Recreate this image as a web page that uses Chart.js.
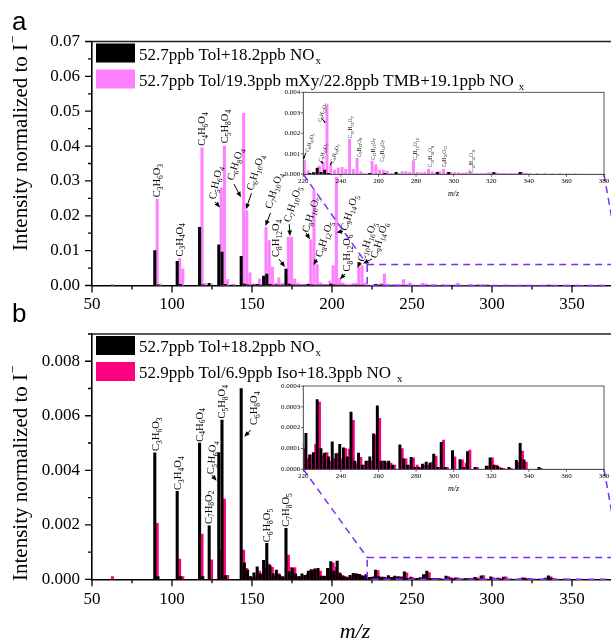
<!DOCTYPE html>
<html>
<head>
<meta charset="utf-8">
<script src="https://cdn.jsdelivr.net/npm/chart.js@4.4.1/dist/chart.umd.min.js"></script>
<style>
  body { margin: 0; width: 611px; height: 643px; overflow: hidden; position: relative; background: #fff; }
  canvas { position: absolute; }
</style>
</head>
<body>
<canvas id="mainA" width="611" height="320" style="left:0px;top:0px"></canvas>
<canvas id="mainB" width="611" height="343" style="left:0px;top:300px"></canvas>
<canvas id="insetA" width="341" height="120" style="left:270px;top:84px"></canvas>
<canvas id="insetB" width="341" height="120" style="left:270px;top:378px"></canvas>
<script>
// Panel a: m/z, Tol only (black), Tol/mXy/TMB mix (pink)
const mzA = [62, 90, 92, 104, 106, 118, 120, 124, 130, 132, 134, 138, 144, 146, 148, 150, 152, 154, 156, 158,
  160, 162, 164, 166, 168, 170, 172, 174, 176, 178, 180, 182, 184, 186, 188, 190, 192, 194, 196, 198,
  200, 202, 204, 206, 208, 210, 212, 214, 216, 218, 220, 222, 224, 226, 228, 230, 232, 234, 236, 238,
  240, 242, 244, 246, 248, 250, 252, 254, 256, 258, 260, 262, 264, 266, 268, 270, 272, 274, 276, 278,
  280, 282, 284, 286, 288, 290, 292, 294, 296, 298, 300, 302, 304, 306, 308, 310, 312, 314, 316, 318,
  320, 322, 324, 326, 328, 330, 332, 334, 336, 338, 340, 344, 348, 352, 356, 360, 364];
const tolA = [0, 0.0100, 0.0002, 0.0069, 0.0003, 0.0167, 0.0002, 0.0006, 0.0117, 0.0096, 0.0003, 0.0001, 0.0084, 0.0004, 0.0002, 0.0001, 0.0002, 0.0003, 0.0001, 0.0027,
  0.0033, 0.0003, 0.0001, 0.0002, 0.0001, 0.0001, 0.0047, 0.0004, 0.0002, 0.0001, 0.0001, 0.0001, 0.0001, 0.0003, 0.0002, 0.0001, 0.0001, 0.0001, 0.0001, 0.0001,
  0.0004, 0.0002, 0.0001, 0.0001, 0.0001, 0, 0, 0.0001, 0.0001, 0.0001, 0.0001, 0, 0.00005, 0.00008, 0.0003, 0.0001, 0.0002, 0.00005, 0, 0,
  0, 0, 0, 0, 0, 0, 0, 0, 0.00005, 0, 0, 0, 0.00005, 0, 0, 0.0001, 0, 0, 0, 0,
  0, 0, 0, 0, 0, 0, 0.0001, 0, 0, 0.0001, 0, 0, 0, 0, 0, 0, 0, 0, 0, 0,
  0, 0.00008, 0, 0, 0, 0, 0, 0, 0.0001, 0, 0, 0, 0, 0, 0, 0, 0];
const mixA = [0.0003, 0.0247, 0.0004, 0.0077, 0.0048, 0.0395, 0.0006, 0.0004, 0.0280, 0.0400, 0.0017, 0.0004, 0.0494, 0.0215, 0.0036, 0.0005, 0.0004, 0.0019, 0.0003, 0.0167,
  0.0129, 0.0053, 0.0006, 0.0022, 0.0006, 0.0008, 0.0139, 0.0139, 0.0019, 0.0006, 0.0003, 0.0004, 0.0005, 0.0131, 0.0272, 0.0060, 0.0008, 0.0004, 0.0003, 0.0013,
  0.0057, 0.0310, 0.0020, 0.0008, 0.0004, 0.0003, 0.0005, 0.0006, 0.0053, 0.0057, 0.0007, 0.00018, 0.00005, 0.0001, 0.0004, 0.00057, 0.00338, 0.0004, 0.0002, 0.0003,
  0.00034, 0.00024, 0.0017, 0.00024, 0.00078, 0.00013, 0.00004, 0.00004, 0.00065, 0.00046, 0.00021, 0.0002, 0.00016, 0.00004, 0.00003, 0.00003, 0.00013, 0.00013, 0.0001, 0.00067,
  0.0001, 0.00008, 0.0001, 0.00026, 0.00013, 0.0001, 0.00013, 0.00024, 0.00008, 0.00008, 0.00008, 0.00008, 0.00006, 0.00008, 0.00013, 0.00004, 0.00003, 0.00003, 0.00004, 0.00008,
  0.0001, 0.00008, 0.00005, 0.00005, 0.00004, 0.00005, 0.00004, 0.00006, 0.0001, 0.00005, 0.00003, 0.00003, 0.00003, 0.00002, 0.00002, 0.00002, 0.00002];

// Panel b: m/z, Tol only (black), Tol/Iso mix (pink)
const mzB = [62, 90, 92, 104, 106, 118, 120, 124, 130, 132, 134, 144, 146, 148, 150, 152, 154, 156, 158, 160,
  162, 164, 166, 168, 170, 172, 174, 176, 178, 180, 182, 184, 186, 188, 190, 192, 194, 196, 198, 200,
  202, 204, 206, 208, 210, 212, 214, 216, 218, 220, 222, 224, 226, 228, 230, 232, 234, 236, 238, 240,
  242, 244, 246, 248, 250, 252, 254, 256, 258, 260, 262, 264, 266, 268, 272, 274, 276, 278, 280, 282,
  284, 286, 288, 290, 292, 294, 296, 300, 304, 306, 308, 312, 318, 320, 322, 324, 326, 330, 334, 336,
  338, 346];
const tolB = [0, 0.00464, 0.0001, 0.00323, 0.0001, 0.0050, 0.0001, 0.00196, 0.00465, 0.00584, 0.00015, 0.0070, 0.0006, 0.00034, 0.0001, 0.00024, 0.00046, 0.0002, 0.0007, 0.00132,
  0.0005, 0.0002, 0.00034, 0.00016, 0.0001, 0.00187, 0.00028, 0.0004, 0.0002, 0.0001, 0.0002, 0.00015, 0.0003, 0.00035, 0.00038, 0.0004, 0.00012, 0.00012, 0.0004, 0.00065,
  0.0003, 0.00067, 0.0002, 0.0001, 0.00006, 0.00015, 0.00022, 0.0002, 0.00018, 0.00012, 0.000173, 0.00007, 0.00008, 0.000335, 0.0001, 0.000078, 0.00006, 0.000132, 0.000075, 0.00012,
  0.000103, 0.00006, 0.000275, 0.00004, 0.000078, 0.00002, 0.00004, 0.00006, 0.00017, 0.000305, 0.00004, 0.00004, 0.00004, 0.00002, 0.000118, 0.00005, 0.00002, 0.000058, 0.00001, 0.00001,
  0.000025, 0.000035, 0.00003, 0.000073, 0.00001, 0.00013, 0.00001, 0.00009, 0.000047, 0.00001, 0.000085, 0.00001, 0.000015, 0.000055, 0.00002, 0.000015, 0.000005, 0.00001, 0.000043, 0.000125,
  0.000045, 0.00001];
const isoB = [0.0001, 0.00205, 0, 0.00074, 0.0001, 0.00166, 0, 0.00071, 0.00107, 0.00294, 0.00015, 0.00107, 0.0004, 0.0001, 0.00005, 0.0001, 0.0003, 0.00015, 0.0004, 0.00056,
  0.00044, 0.0001, 0.00021, 0.00008, 0.00005, 0.00089, 0.00044, 0.00043, 0.0001, 0.0001, 0.00015, 0.0002, 0.00035, 0.0003, 0.00035, 0.0003, 0.0001, 0.0001, 0.00038, 0.0006,
  0.00045, 0.00025, 0.00015, 0.0001, 0.00005, 0.0001, 0.0002, 0.00018, 0.00015, 0.0001, 0.00005, 0.00007, 0.00012, 0.000323, 0.00007, 0.00008, 0.00004, 0.00005, 0.000078, 0.00005,
  0.0001, 0.000097, 0.000235, 0.00003, 0.000058, 0.00002, 0.00004, 0.00004, 0.000165, 0.000245, 0.00004, 0.00003, 0.00003, 0.00002, 0.0001, 0.00005, 0.00002, 0.000055, 0.00002, 0.00001,
  0.00002, 0.00002, 0.000035, 0.000063, 0.00001, 0.00014, 0.00001, 0.00006, 0.000045, 0.00003, 0.000092, 0.00001, 0.000015, 0.000055, 0.00002, 0.00001, 0.000005, 0.000005, 0.000033, 0.000088,
  0.000035, 0.000005];

const xTicksMain = [50, 100, 150, 200, 250, 300, 350];
const xTicksInset = [220, 240, 260, 280, 300, 320, 340, 360, 380];
const yTicksA = [0, 0.01, 0.02, 0.03, 0.04, 0.05, 0.06, 0.07];
const yTicksB = [0, 0.002, 0.004, 0.006, 0.008];
const yTicksInA = [0, 0.001, 0.002, 0.003, 0.004];
const yTicksInB = [0, 0.0001, 0.0002, 0.0003, 0.0004];

const seriesTol = '52.7ppb Tol+18.2ppb NO';
const seriesMixA = '52.7ppb Tol/19.3ppb mXy/22.8ppb TMB+19.1ppb NO';
const seriesMixB = '52.9ppb Tol/6.9ppb Iso+18.3ppb NO';

// peak labels: formula, anchor (m/z, intensity), text angle, optional arrow
const labelsA = [
  { f: 'C3H6O3', m: 90.4, v: 0.0253 },
  { f: 'C3H4O4', m: 104.6, v: 0.0083 },
  { f: 'C4H6O4', m: 118.6, v: 0.0401 },
  { f: 'C5H8O4', m: 132.9, v: 0.0408 },
  { f: 'C5H6O4', m: 125, v: 0.0248, a: -78, arr: [126.9, 0.0240, 130, 0.0224] },
  { f: 'C6H8O4', m: 136.25, v: 0.0303, a: -72, arr: [138.75, 0.0291, 143.1, 0.0253] },
  { f: 'C6H10O4', m: 148.4, v: 0.0274, a: -72, arr: [149.7, 0.0265, 146.25, 0.0219] },
  { f: 'C7H10O4', m: 160, v: 0.0222, a: -72, arr: [161.6, 0.0208, 158.4, 0.0171] },
  { f: 'C8H12O4', m: 165, v: 0.0082, arr: [166.9, 0.0076, 170.6, 0.0053] },
  { f: 'C7H10O5', m: 171.7, v: 0.0183, a: -72, arr: [173.3, 0.0176, 173.75, 0.0142] },
  { f: 'C8H10O5', m: 183.1, v: 0.0154, a: -72, arr: [183.75, 0.0151, 186.25, 0.0133] },
  { f: 'C8H12O5', m: 191.4, v: 0.0083, a: -72, arr: [190.6, 0.0076, 188.4, 0.0059] },
  { f: 'C9H14O5', m: 207.1, v: 0.0159, a: -72, arr: [206.9, 0.0156, 202.8, 0.0152] },
  { f: 'C8H12O6', m: 209.2, v: 0.0040, arr: [208.1, 0.0033, 205, 0.0018] },
  { f: 'C10H16O5', m: 217.9, v: 0.0070, a: -72, arr: [217.5, 0.0067, 215.9, 0.0051] },
  { f: 'C9H14O6', m: 225.8, v: 0.0080, a: -72, arr: [225, 0.0076, 219.4, 0.0063] }
];
const labelsB = [
  { f: 'C3H6O3', m: 90, v: 0.00471 },
  { f: 'C3H4O4', m: 103.6, v: 0.00328 },
  { f: 'C4H6O4', m: 117, v: 0.00505 },
  { f: 'C5H8O4', m: 131.25, v: 0.0059 },
  { f: 'C5H6O4', m: 123.75, v: 0.00386, a: -85, arr: [124.8, 0.00383, 127.9, 0.00362] },
  { f: 'C7H8O2', m: 122.7, v: 0.00203 },
  { f: 'C6H8O4', m: 151.25, v: 0.00566, arr: [149.2, 0.00548, 145.2, 0.00523] },
  { f: 'C6H8O5', m: 159.2, v: 0.00136 },
  { f: 'C7H8O5', m: 171, v: 0.00193 }
];
const labelsInA = [
  { f: 'C9H16O7', m: 221.8, v: 0.0011, a: -72, arr: [221.4, 0.00105, 220, 0.00073] },
  { f: 'C9H10O7', m: 228.9, v: 0.00061, a: -72, arr: [229.3, 0.00065, 230.7, 0.0005] },
  { f: 'C9H12O7', m: 228.5, v: 0.00257, a: -72, arr: [229.8, 0.00273, 232, 0.00249] },
  { f: 'C9H14O7', m: 235.1, v: 0.00057, a: -72, arr: [235.1, 0.00061, 234.2, 0.0004] },
  { f: 'C10H12O7', m: 245.1, v: 0.00176 },
  { f: 'C9H12O8', m: 249.5, v: 0.00083 },
  { f: 'C11H12O7', m: 257.2, v: 0.0007 },
  { f: 'C11H14O7', m: 261.8, v: 0.00061 },
  { f: 'C9H10O10', m: 279.6, v: 0.0007 },
  { f: 'C12H14O8', m: 287.6, v: 0.00034 },
  { f: 'C9H10O11', m: 295, v: 0.00034 },
  { f: 'C10H12O11', m: 309.4, v: 0.00008 }
];

const SERIF = '"Liberation Serif", "Times New Roman", serif';
const SANS = '"Liberation Sans", Arial, sans-serif';
const PINK_A = '#ff80ff';
const PINK_B = '#ff0080';
const ZOOM = '#7b2ff7';

function drawFormula(ctx, f, px, py, ang, size, sub) {
  ctx.save();
  ctx.translate(px, py);
  ctx.rotate(ang * Math.PI / 180);
  ctx.textAlign = 'left';
  ctx.textBaseline = 'alphabetic';
  ctx.fillStyle = '#000';
  let x = 0;
  const base = size * 0.33;
  f.match(/[A-Za-z]+|\d+/g).forEach(part => {
    const isSub = /\d/.test(part);
    ctx.font = (isSub ? sub : size) + 'px ' + SERIF;
    ctx.fillText(part, x, isSub ? base + size * 0.25 : base);
    x += ctx.measureText(part).width;
  });
  ctx.restore();
}

function drawArrow(ctx, x1, y1, x2, y2, head) {
  const ang = Math.atan2(y2 - y1, x2 - x1);
  ctx.save();
  ctx.strokeStyle = '#000';
  ctx.fillStyle = '#000';
  ctx.lineWidth = 1;
  ctx.beginPath();
  ctx.moveTo(x1, y1);
  ctx.lineTo(x2 - Math.cos(ang) * head * 0.8, y2 - Math.sin(ang) * head * 0.8);
  ctx.stroke();
  ctx.beginPath();
  ctx.moveTo(x2, y2);
  ctx.lineTo(x2 - head * Math.cos(ang - 0.4), y2 - head * Math.sin(ang - 0.4));
  ctx.lineTo(x2 - head * Math.cos(ang + 0.4), y2 - head * Math.sin(ang + 0.4));
  ctx.closePath();
  ctx.fill();
  ctx.restore();
}

function drawLabels(chart, list, size, sub, head) {
  const xs = chart.scales.x, ys = chart.scales.y, ctx = chart.ctx;
  list.forEach(l => {
    drawFormula(ctx, l.f, xs.getPixelForValue(l.m), ys.getPixelForValue(l.v), l.a || -90, size, sub);
    if (l.arr) {
      drawArrow(ctx, xs.getPixelForValue(l.arr[0]), ys.getPixelForValue(l.arr[1]),
        xs.getPixelForValue(l.arr[2]), ys.getPixelForValue(l.arr[3]), head);
    }
  });
}

function minorTicks(ticks, max) {
  const out = [];
  for (let i = 0; i < ticks.length - 1; i++) out.push((ticks[i] + ticks[i + 1]) / 2);
  const half = (ticks[1] - ticks[0]) / 2;
  if (ticks[ticks.length - 1] + half <= max + 1e-9) out.push(ticks[ticks.length - 1] + half);
  return out;
}

function drawTickMarks(chart, xMaj, yMaj, len, minLen, withMinor, color, width) {
  const xs = chart.scales.x, ys = chart.scales.y, ctx = chart.ctx, ca = chart.chartArea;
  ctx.save();
  ctx.strokeStyle = color;
  ctx.lineWidth = width;
  ctx.beginPath();
  xMaj.forEach(v => { const p = xs.getPixelForValue(v); ctx.moveTo(p, ca.bottom); ctx.lineTo(p, ca.bottom + len); });
  yMaj.forEach(v => { const p = ys.getPixelForValue(v); ctx.moveTo(ca.left, p); ctx.lineTo(ca.left - len, p); });
  if (withMinor) {
    minorTicks(xMaj, xs.max).forEach(v => { const p = xs.getPixelForValue(v); ctx.moveTo(p, ca.bottom); ctx.lineTo(p, ca.bottom + minLen); });
    minorTicks(yMaj, ys.max).forEach(v => { const p = ys.getPixelForValue(v); ctx.moveTo(ca.left, p); ctx.lineTo(ca.left - minLen, p); });
  }
  ctx.stroke();
  ctx.restore();
}

function offsetOf(canvas) {
  return [parseFloat(canvas.style.left), parseFloat(canvas.style.top)];
}

function mainPlugin(cfg) {
  return {
    id: 'mainDeco',
    afterDatasetsDraw(chart) {
      const ctx = chart.ctx, ca = chart.chartArea, xs = chart.scales.x, ys = chart.scales.y;
      drawTickMarks(chart, xTicksMain, cfg.yTicks, 7, 4, true, '#000', 1.3);

      // frame top
      ctx.save();
      ctx.strokeStyle = '#222';
      ctx.lineWidth = 1.3;
      ctx.beginPath();
      ctx.moveTo(ca.left, ca.top);
      ctx.lineTo(ca.right, ca.top);
      ctx.stroke();
      ctx.restore();

      drawLabels(chart, cfg.labels, 10.5, 7.5, 6);

      // zoom box and connectors to the inset
      const inset = cfg.inset();
      const [ix, iy] = offsetOf(inset.canvas);
      const [mx, my] = offsetOf(chart.canvas);
      const ica = inset.chartArea;
      const x0 = xs.getPixelForValue(cfg.zoom[0]), x1 = xs.getPixelForValue(cfg.zoom[1]);
      const y0 = ys.getPixelForValue(0), y1 = ys.getPixelForValue(cfg.zoom[2]);
      ctx.save();
      ctx.strokeStyle = ZOOM;
      ctx.lineWidth = 1.5;
      ctx.setLineDash([7, 5]);
      ctx.beginPath();
      ctx.rect(x0, y1, x1 - x0, y0 - y1);
      ctx.moveTo(ix - mx + ica.left, iy - my + ica.bottom);
      ctx.lineTo(x0, y1);
      ctx.moveTo(ix - mx + ica.right, iy - my + ica.bottom);
      ctx.lineTo(x1, y1);
      ctx.stroke();
      ctx.restore();

      // legend
      ctx.save();
      ctx.textAlign = 'left';
      ctx.textBaseline = 'alphabetic';
      cfg.legend.forEach((it, i) => {
        const top = ca.top + 2 + i * 26;
        ctx.fillStyle = it.color;
        ctx.fillRect(ca.left + 4, top, 39, 19);
        ctx.fillStyle = '#000';
        ctx.font = '17px ' + SERIF;
        ctx.fillText(it.text, ca.left + 47, top + 16);
        const w = ctx.measureText(it.text).width;
        ctx.font = '11px ' + SERIF;
        ctx.fillText('x', ca.left + 47 + w + it.gap, top + 20);
      });
      ctx.restore();

      // y title
      ctx.save();
      ctx.translate(27, cfg.titleY);
      ctx.rotate(-Math.PI / 2);
      ctx.fillStyle = '#000';
      ctx.font = '21px ' + SERIF;
      ctx.textAlign = 'left';
      const tt = 'Intensity normalized to I';
      ctx.fillText(tt, 0, 0);
      const tw = ctx.measureText(tt).width;
      ctx.font = '14px ' + SERIF;
      ctx.fillText('\u2212', tw + 1, -10);
      ctx.restore();

      ctx.save();
      ctx.fillStyle = '#000';
      ctx.font = '26px ' + SANS;
      ctx.fillText(cfg.letter, 12, cfg.letterY);
      if (cfg.mz) {
        ctx.font = 'italic 22px ' + SERIF;
        ctx.textAlign = 'center';
        ctx.fillText('m/z', 355, cfg.mz);
      }
      ctx.restore();
    }
  };
}

function insetPlugin(cfg) {
  return {
    id: 'insetDeco',
    beforeDatasetsDraw(chart) {
      const ca = chart.chartArea, ctx = chart.ctx;
      ctx.save();
      ctx.fillStyle = '#fff';
      ctx.fillRect(ca.left, ca.top, ca.right - ca.left, ca.bottom - ca.top);
      ctx.restore();
    },
    afterDatasetsDraw(chart) {
      const ca = chart.chartArea, ctx = chart.ctx;
      drawTickMarks(chart, xTicksInset, cfg.yTicks, 2.5, 0, false, '#444', 0.8);
      ctx.save();
      ctx.strokeStyle = '#444';
      ctx.lineWidth = 0.9;
      ctx.strokeRect(ca.left, ca.top, ca.right - ca.left, ca.bottom - ca.top);
      ctx.fillStyle = '#000';
      ctx.font = 'italic 8px ' + SERIF;
      ctx.textAlign = 'center';
      ctx.fillText('m/z', (ca.left + ca.right) / 2, ca.bottom + 22);
      ctx.restore();
      if (cfg.labels) drawLabels(chart, cfg.labels, 5.5, 4, 3);
    }
  };
}

function barSets(mz, a, b, colorB, thick) {
  return [
    { label: seriesTol, data: mz.map((m, i) => ({ x: m, y: a[i] })), backgroundColor: '#000', barThickness: thick },
    { label: 'mix', data: mz.map((m, i) => ({ x: m, y: b[i] })), backgroundColor: colorB, barThickness: thick }
  ];
}

function makeChart(id, sets, o, plugin) {
  return new Chart(document.getElementById(id), {
    type: 'bar',
    data: { datasets: sets },
    options: {
      responsive: false,
      animation: false,
      events: [],
      layout: { padding: { top: o.padTop, right: o.padRight, left: 0, bottom: 0 } },
      plugins: { legend: { display: false }, tooltip: { enabled: false } },
      scales: {
        x: {
          type: 'linear', min: o.xMin, max: o.xMax, offset: false,
          grid: { display: false, drawTicks: false },
          border: { display: true, color: o.axisColor, width: o.axisWidth },
          afterBuildTicks: s => { s.ticks = o.xTicks.map(v => ({ value: v })); },
          afterFit: s => { s.height = o.xHeight; s.paddingLeft = 0; s.paddingRight = 0; },
          ticks: { padding: o.xPad, color: '#000', font: { family: SERIF, size: o.font }, maxRotation: 0, autoSkip: false,
            callback: v => String(v) }
        },
        y: {
          min: 0, max: o.yMax,
          grid: { display: false, drawTicks: false },
          border: { display: true, color: o.axisColor, width: o.axisWidth },
          afterBuildTicks: s => { s.ticks = o.yTicks.map(v => ({ value: v })); },
          afterFit: s => { s.width = o.yWidth; s.paddingTop = 0; s.paddingBottom = 0; },
          ticks: { padding: o.yPad, color: '#000', font: { family: SERIF, size: o.font }, autoSkip: false,
            callback: v => v.toFixed(o.dec) }
        }
      }
    },
    plugins: [plugin]
  });
}

const insetA = makeChart('insetA', barSets(mzA, tolA, mixA, PINK_A, 2.3), {
  padTop: 8.3, padRight: 7, xMin: 220, xMax: 380, xTicks: xTicksInset, xHeight: 29.7, xPad: 3,
  yMax: 0.004, yTicks: yTicksInA, yWidth: 33.3, yPad: 3, dec: 3, font: 7, axisColor: '#444', axisWidth: 0.9
}, insetPlugin({ yTicks: yTicksInA, labels: labelsInA }));

const insetB = makeChart('insetB', barSets(mzB, tolB, isoB, PINK_B, 2.3), {
  padTop: 8, padRight: 7, xMin: 220, xMax: 380, xTicks: xTicksInset, xHeight: 28.7, xPad: 3,
  yMax: 0.0004, yTicks: yTicksInB, yWidth: 33.3, yPad: 3, dec: 4, font: 7, axisColor: '#444', axisWidth: 0.9
}, insetPlugin({ yTicks: yTicksInB }));

const mainA = makeChart('mainA', barSets(mzA, tolA, mixA, PINK_A, 2.4), {
  padTop: 41.5, padRight: 0, xMin: 50, xMax: 374.4, xTicks: xTicksMain, xHeight: 34.5, xPad: 9,
  yMax: 0.07, yTicks: yTicksA, yWidth: 92, yPad: 12, dec: 2, font: 17, axisColor: '#000', axisWidth: 1.6
}, mainPlugin({
  yTicks: yTicksA, labels: labelsA, inset: () => insetA, zoom: [222, 380, 0.006],
  legend: [{ color: '#000', text: seriesTol, gap: 1 }, { color: PINK_A, text: seriesMixA, gap: 5 }],
  titleY: 251, letter: 'a', letterY: 30
}));

const mainB = makeChart('mainB', barSets(mzB, tolB, isoB, PINK_B, 2.4), {
  padTop: 34, padRight: 0, xMin: 50, xMax: 374.4, xTicks: xTicksMain, xHeight: 63.7, xPad: 10,
  yMax: 0.009, yTicks: yTicksB, yWidth: 92, yPad: 12, dec: 3, font: 17, axisColor: '#000', axisWidth: 1.6
}, mainPlugin({
  yTicks: yTicksB, labels: labelsB, inset: () => insetB, zoom: [222, 380, 0.0008],
  legend: [{ color: '#000', text: seriesTol, gap: 1 }, { color: PINK_B, text: seriesMixB, gap: 6 }],
  titleY: 281, letter: 'b', letterY: 21.7, mz: 338
}));
</script>
</body>
</html>
